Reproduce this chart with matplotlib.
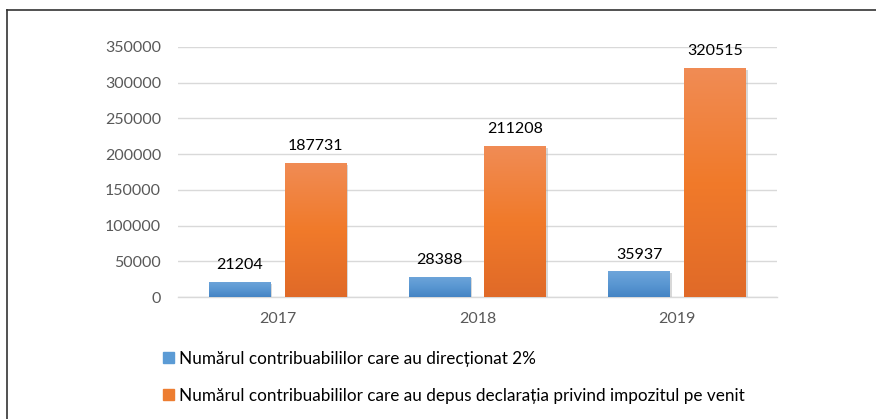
import numpy as np
import matplotlib
matplotlib.use("Agg")
import matplotlib.pyplot as plt
from matplotlib.colors import LinearSegmentedColormap
from matplotlib.lines import Line2D
import matplotlib.patheffects as pe

years = ["2017", "2018", "2019"]
directionat = [21204, 28388, 35937]
depus = [187731, 211208, 320515]
series_names = [
    "Numărul contribuabililor care au direcționat 2%",
    "Numărul contribuabililor care au depus declarația privind impozitul pe venit",
]
yticks = [0, 50000, 100000, 150000, 200000, 250000, 300000, 350000]

plt.rcParams['font.family'] = ['Lato', 'DejaVu Sans']

fig = plt.figure(figsize=(8.76, 4.19), dpi=100)
ax = fig.add_axes([0.203, 0.291, 0.684, 0.597])

x = np.arange(len(years))
w = 0.31
off = 0.19

blue_cmap = LinearSegmentedColormap.from_list("b", ["#6ea5da", "#5a97d2", "#4584c4"])
orange_cmap = LinearSegmentedColormap.from_list("o", ["#f08c55", "#f17a2a", "#e06a28"])

grad = np.linspace(0, 1, 256).reshape(-1, 1)

def draw(xs, vals, cmap, solid):
    bars = ax.bar(xs, vals, w, color=solid, zorder=3,
                  path_effects=[pe.SimplePatchShadow(offset=(1.2, -1.2), shadow_rgbFace='#aaaaaa', alpha=0.45), pe.Normal()])
    for b in bars:
        x0, y0 = b.get_x(), b.get_y()
        im = ax.imshow(grad, cmap=cmap, aspect='auto', origin='upper',
                       extent=(x0, x0 + b.get_width(), y0, y0 + b.get_height()), zorder=4)
        im.set_clip_path(b)
    for xi, v in zip(xs, vals):
        ax.annotate(str(v), (xi, v), xytext=(0, 7), textcoords='offset points',
                    ha='center', va='bottom', fontsize=11.5, color='black', zorder=5)
    return bars

b1 = draw(x - off, directionat, blue_cmap, "#5b9bd5")
b2 = draw(x + off, depus, orange_cmap, "#ed7d31")

ax.set_xlim(-0.5, 2.5)
ax.set_ylim(0, 350000)
ax.set_yticks(yticks)
ax.set_yticklabels([str(t) for t in yticks])
ax.set_xticks(x)
ax.set_xticklabels(years)
ax.tick_params(axis='both', length=0, labelsize=11.5, labelcolor='#595959')
ax.tick_params(axis='y', pad=12)
ax.tick_params(axis='x', pad=11)
ax.grid(axis='y', color='#d9d9d9', linewidth=1, zorder=0)
ax.set_axisbelow(True)
for s in ['top', 'right', 'left']:
    ax.spines[s].set_visible(False)
ax.spines['bottom'].set_color('#d9d9d9')
ax.spines['bottom'].set_linewidth(1)

handles = [plt.Rectangle((0, 0), 1, 1, color="#5b9bd5"),
           plt.Rectangle((0, 0), 1, 1, color="#ed7d31")]
fig.legend(handles, series_names, loc='upper left', bbox_to_anchor=(0.186, 0.163),
           frameon=False, fontsize=12.3, handlelength=0.65, handleheight=0.65,
           handletextpad=0.3, labelspacing=1.22, borderpad=0, borderaxespad=0)

fig.add_artist(Line2D([7/876, 7/876], [0, 1 - 10/419], transform=fig.transFigure, color='#333333', lw=1.2))
fig.add_artist(Line2D([7/876, 1], [1 - 10/419, 1 - 10/419], transform=fig.transFigure, color='#333333', lw=1.2))

fig.savefig("out.png", dpi=100)
